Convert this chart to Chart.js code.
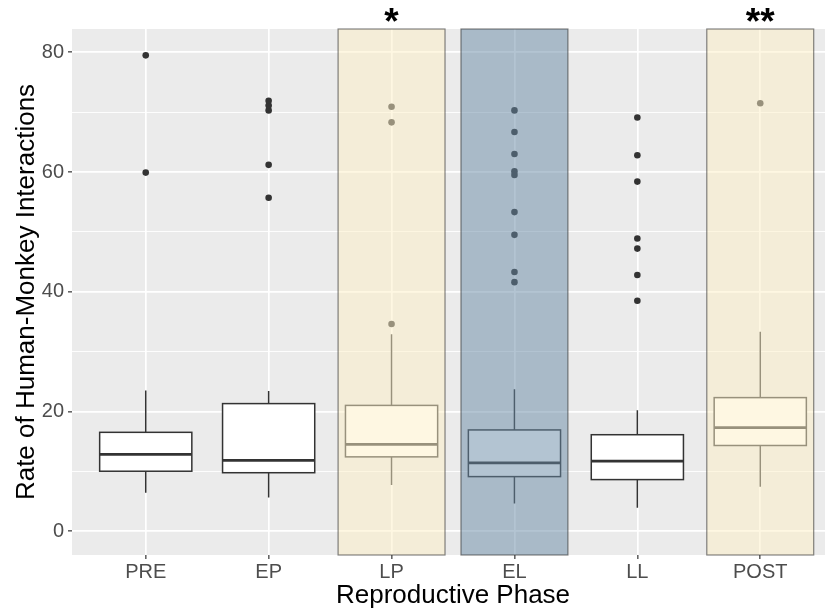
<!DOCTYPE html>
<html>
<head>
<meta charset="utf-8">
<script src="https://cdn.jsdelivr.net/npm/chart.js@4.4.1/dist/chart.umd.min.js"></script>
<style>
  html, body { margin: 0; padding: 0; background: #ffffff; overflow: hidden; }
  #wrap { width: 825px; height: 611px; overflow: hidden; }
  canvas { display: block; }
</style>
</head>
<body>
<div id="wrap"><canvas id="chart" width="840" height="611"></canvas></div>
<script>
// Reproductive phases on the x axis
const categories = ['PRE', 'EP', 'LP', 'EL', 'LL', 'POST'];

// Five-number summaries of the interaction rate per phase
const whiskerLow  = [6.4, 5.6, 7.7, 4.6, 3.9, 7.4];
const q1          = [10.0, 9.75, 12.4, 9.1, 8.6, 14.3];
const medians     = [12.8, 11.8, 14.5, 11.4, 11.7, 17.3];
const q3          = [16.5, 21.3, 21.0, 16.9, 16.1, 22.3];
const whiskerHigh = [23.5, 23.4, 32.9, 23.7, 20.2, 33.3];

// Outlying observations per phase
const outliers = [
  [59.9, 79.5],
  [55.7, 61.2, 70.3, 71.1, 71.9],
  [34.6, 68.3, 70.9],
  [41.6, 43.3, 49.5, 53.3, 59.5, 60.1, 63.0, 66.7, 70.3],
  [38.5, 42.8, 47.2, 48.9, 58.4, 62.8, 69.1],
  [71.5]
];

// Phases shaded in the panel, and significance marks above them
const highlightPhases = ['LP', 'EL', 'POST'];
const highlightFills  = ['rgba(253,239,197,0.5)', 'rgba(103,137,165,0.5)', 'rgba(253,239,197,0.5)'];
const significance    = ['', '', '*', '', '', '**'];

// Axis ticks
const yMajorTicks = [0, 20, 40, 60, 80];
const yMinorTicks = [10, 30, 50, 70];

const FONT = '"Liberation Sans", Arial, Helvetica, sans-serif';
const BOX_HALF = 0.375;
const SHADE_HALF = 0.435;

const outlierPoints = [];
outliers.forEach((vals, i) => vals.forEach(v => outlierPoints.push({ x: i, y: v })));

// Grey panel background
const panelBackground = {
  id: 'panelBackground',
  beforeDraw(chart) {
    const { ctx, chartArea: a } = chart;
    ctx.save();
    ctx.fillStyle = '#EBEBEB';
    ctx.fillRect(a.left, a.top, a.right - a.left, a.bottom - a.top);
    ctx.restore();
  }
};

// Box-and-whisker marks drawn from the summaries through the scales
const boxPlot = {
  id: 'boxPlot',
  beforeDatasetsDraw(chart) {
    const { ctx, scales: { x, y } } = chart;
    ctx.save();
    categories.forEach((c, i) => {
      const xc = x.getPixelForValue(i);
      const xl = x.getPixelForValue(i - BOX_HALF);
      const xr = x.getPixelForValue(i + BOX_HALF);
      const yLo = y.getPixelForValue(whiskerLow[i]);
      const yQ1 = y.getPixelForValue(q1[i]);
      const yMed = y.getPixelForValue(medians[i]);
      const yQ3 = y.getPixelForValue(q3[i]);
      const yHi = y.getPixelForValue(whiskerHigh[i]);
      ctx.strokeStyle = '#333333';
      ctx.lineWidth = 1.5;
      ctx.beginPath();
      ctx.moveTo(xc, yHi); ctx.lineTo(xc, yQ3);
      ctx.moveTo(xc, yQ1); ctx.lineTo(xc, yLo);
      ctx.stroke();
      ctx.fillStyle = '#FFFFFF';
      ctx.fillRect(xl, yQ3, xr - xl, yQ1 - yQ3);
      ctx.strokeRect(xl, yQ3, xr - xl, yQ1 - yQ3);
      ctx.lineWidth = 2.8;
      ctx.beginPath();
      ctx.moveTo(xl, yMed); ctx.lineTo(xr, yMed);
      ctx.stroke();
    });
    ctx.restore();
  }
};

// Translucent shading over the highlighted phases
const phaseShading = {
  id: 'phaseShading',
  afterDatasetsDraw(chart) {
    const { ctx, scales: { x, y } } = chart;
    ctx.save();
    highlightPhases.forEach((p, k) => {
      const i = categories.indexOf(p);
      const xl = x.getPixelForValue(i - SHADE_HALF);
      const xr = x.getPixelForValue(i + SHADE_HALF);
      const yt = y.getPixelForValue(y.max);
      const yb = y.getPixelForValue(y.min);
      ctx.fillStyle = highlightFills[k];
      ctx.fillRect(xl, yt, xr - xl, yb - yt);
      ctx.strokeStyle = 'rgba(51,51,51,0.6)';
      ctx.lineWidth = 1.2;
      ctx.strokeRect(xl, yt, xr - xl, yb - yt);
    });
    ctx.restore();
  }
};

// Significance asterisks above the panel
const sigMarks = {
  id: 'sigMarks',
  afterDraw(chart) {
    const { ctx, scales: { x }, chartArea } = chart;
    ctx.save();
    ctx.fillStyle = '#000000';
    ctx.font = 'bold 37px ' + FONT;
    ctx.textAlign = 'center';
    ctx.textBaseline = 'alphabetic';
    significance.forEach((s, i) => {
      if (!s) return;
      ctx.fillText(s, x.getPixelForValue(i), chartArea.top + 5);
    });
    ctx.restore();
  }
};

new Chart(document.getElementById('chart'), {
  type: 'scatter',
  data: {
    datasets: [{
      data: outlierPoints,
      pointRadius: 3.3,
      pointHoverRadius: 3.3,
      backgroundColor: '#333333',
      borderWidth: 0
    }]
  },
  options: {
    responsive: false,
    animation: false,
    events: [],
    layout: { padding: { top: 29, right: 6, left: 0, bottom: 0 } },
    plugins: { legend: { display: false }, tooltip: { enabled: false } },
    scales: {
      x: {
        type: 'linear',
        min: -0.6,
        max: 5.6,
        afterBuildTicks: s => { s.ticks = categories.map((c, i) => ({ value: i })); },
        afterFit: s => { s.height = 56; },
        ticks: {
          callback: v => categories[v],
          autoSkip: false,
          maxRotation: 0,
          color: '#4D4D4D',
          font: { family: FONT, size: 20 },
          padding: 1
        },
        grid: { color: '#FFFFFF', lineWidth: 1.7, tickColor: '#333333', tickLength: 4, tickWidth: 1.2 },
        border: { display: false },
        title: {
          display: true,
          text: 'Reproductive Phase',
          color: '#000000',
          font: { family: FONT, size: 26 },
          padding: { top: 0, bottom: 0 }
        }
      },
      y: {
        type: 'linear',
        min: -4,
        max: 83.9,
        afterBuildTicks: s => {
          s.ticks = yMajorTicks.concat(yMinorTicks).sort((a, b) => a - b).map(v => ({ value: v }));
        },
        afterFit: s => { s.width = 72; },
        ticks: {
          callback: v => (yMajorTicks.includes(v) ? String(v) : ''),
          color: '#4D4D4D',
          font: { family: FONT, size: 20 },
          padding: 4
        },
        grid: {
          color: '#FFFFFF',
          lineWidth: ctx => (yMajorTicks.includes(ctx.tick.value) ? 1.7 : 0.9),
          tickColor: ctx => (yMajorTicks.includes(ctx.tick.value) ? '#333333' : 'rgba(0,0,0,0)'),
          tickLength: 4,
          tickWidth: 1.2
        },
        border: { display: false },
        title: {
          display: true,
          text: 'Rate of Human-Monkey Interactions',
          color: '#000000',
          font: { family: FONT, size: 26 },
          padding: { top: 11, bottom: 0 }
        }
      }
    }
  },
  plugins: [panelBackground, boxPlot, phaseShading, sigMarks]
});
</script>
</body>
</html>
